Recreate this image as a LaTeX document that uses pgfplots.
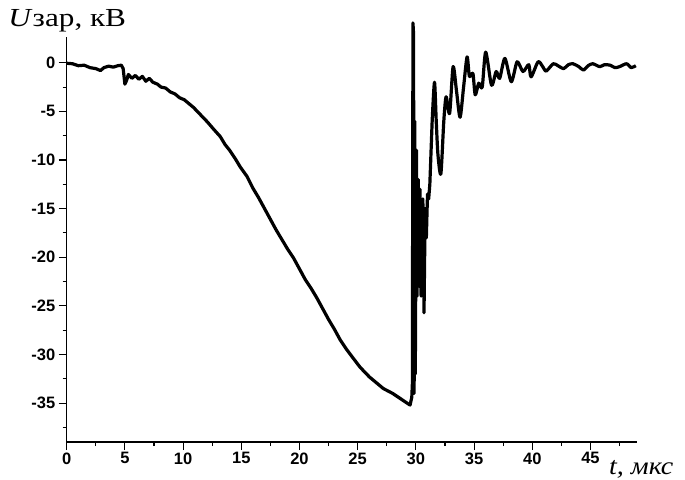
\documentclass[border=0pt]{standalone}
\usepackage{fontspec}
\setmainfont{Liberation Serif}
\setsansfont{Liberation Sans}
\usepackage{graphicx}
\usepackage{pgfplots}
\pgfplotsset{compat=1.18}

% signal: time (mks), voltage (kV)
\begin{document}
\begin{tikzpicture}
\begin{axis}[
    scale only axis,
    width=570.3bp, height=405bp,
    xmin=0, xmax=49, ymin=-39, ymax=2.65,
    axis lines=left,
    axis line style={-, line width=1.1bp},
    tick align=outside,
    major tick length=8bp, minor tick length=4bp,
    tick style={line width=1.1bp, black},
    xtick={0,5,...,45}, minor xtick={2.5,7.5,...,47.5},
    ytick={-35,-30,-25,-20,-15,-10,-5,0},
    minor ytick={-37.5,-32.5,-27.5,-22.5,-17.5,-12.5,-7.5,-2.5},
    xticklabels={0,5,10,15,20,25,30,35,40,45},
    yticklabels={-35,-30,-25,-20,-15,-10,-5,0},
    ticklabel style={font=\fontsize{16.5bp}{19bp}\sffamily\bfseries},
    xticklabel style={yshift=1bp},
    clip=false,
]
% charging and breakdown
\addplot[black, line width=3.2bp, line join=round] coordinates {
 (0,-0.05) (0.5,-0.1) (1.0,-0.3) (1.5,-0.25) (2.0,-0.5) (2.5,-0.6) (2.9,-0.8)
 (3.2,-0.5) (3.6,-0.35) (4.0,-0.45) (4.4,-0.3) (4.7,-0.25) (4.85,-0.6) (5.0,-2.2)
 (5.15,-1.8) (5.3,-1.2) (5.6,-1.6) (5.9,-1.3) (6.2,-1.7) (6.5,-1.4) (6.8,-1.9)
 (7.1,-1.6) (7.4,-2.0) (7.8,-2.2) (8.1,-2.5) (8.5,-2.6) (8.9,-3.0) (9.3,-3.2)
 (9.7,-3.6) (10.1,-3.8) (10.5,-4.2) (10.9,-4.6) (11.3,-5.1) (11.7,-5.6) (12.1,-6.1)
 (12.6,-6.8) (13.2,-7.6) (13.6,-8.4) (14.0,-9.0) (14.5,-9.9) (14.9,-10.7)
 (15.5,-11.7) (16.0,-12.9) (16.5,-13.9) (17.0,-15.0) (17.5,-16.1) (18.0,-17.2)
 (18.5,-18.2) (19.0,-19.2) (19.5,-20.1) (20.0,-21.2) (20.5,-22.3) (21.0,-23.2)
 (21.5,-24.2) (22.0,-25.3) (22.5,-26.4) (23.0,-27.4) (23.5,-28.5) (24.0,-29.4)
 (24.5,-30.2) (25.2,-31.3) (26.0,-32.3) (26.8,-33.1) (27.2,-33.5)
 (28.0,-34.0) (28.5,-34.4) (29.0,-34.8) (29.5,-35.2)
 (29.65,-34.4) (29.7,-33) (29.75,4.1) (29.8,3.0) (29.85,-34) (29.9,-6)
 (29.95,-32) (30.0,-20) (30.05,-9) (30.1,-24) (30.15,-16) (30.2,-12) (30.25,-21)
 (30.3,-23) (30.35,-13) (30.4,-17) (30.45,-24) (30.5,-22) (30.55,-15) (30.6,-14)
 (30.65,-20) (30.7,-25.7) (30.8,-15) (30.9,-18) (31.0,-13.5) (31.1,-14)
 (31.2,-12.5) (31.4,-6)
};
% decaying oscillations
\addplot[black, line width=3.2bp, line join=round, smooth, tension=0.45] coordinates {
 (31.4,-6) (31.6,-2.0) (31.75,-6) (31.9,-9.5) (32.15,-11.4)
 (32.4,-6) (32.6,-3.5) (32.9,-5.2) (33.2,-0.4) (33.5,-3) (33.8,-5.6) (34.1,-2.5)
 (34.4,0.6) (34.6,-1.4) (34.9,-1.1) (35.1,-3.3) (35.4,-2.1) (35.7,-2.5) (36.0,1.1)
 (36.5,-2.3) (36.9,-0.9) (37.2,-1.6) (37.65,0.45) (38.2,-1.95) (38.7,0.1)
 (39.2,-0.9) (39.7,-0.2) (39.9,-1.45) (40.5,0.1) (40.9,-0.4) (41.2,-0.85)
 (41.8,-0.1) (42.2,-0.3) (42.7,-0.6) (43.1,-0.2) (43.5,-0.1) (44.0,-0.4)
 (44.4,-0.75) (44.8,-0.3) (45.2,-0.1) (45.8,-0.4) (46.2,-0.2) (46.7,-0.25)
 (47.1,-0.5) (47.5,-0.4) (48.1,-0.1) (48.5,-0.5) (48.9,-0.3)
};
\end{axis}
\node[anchor=base west, inner sep=0, font=\fontsize{26bp}{30bp}\selectfont]
  at ([xshift=-58.4bp,yshift=10.3bp]current axis.north west)
  {\scalebox{1.2}[1]{\textit{U}зар, кВ}};
\node[anchor=base west, inner sep=0, font=\fontsize{25bp}{29bp}\selectfont\itshape]
  at ([xshift=-28bp,yshift=-32bp]current axis.south east)
  {\scalebox{1.12}[1]{t, мкс}};
\pgfresetboundingbox
\path[use as bounding box] ([xshift=-66.7bp,yshift=-37bp]current axis.south west)
  rectangle ([xshift=48bp,yshift=37bp]current axis.north east);
\end{tikzpicture}
\end{document}
